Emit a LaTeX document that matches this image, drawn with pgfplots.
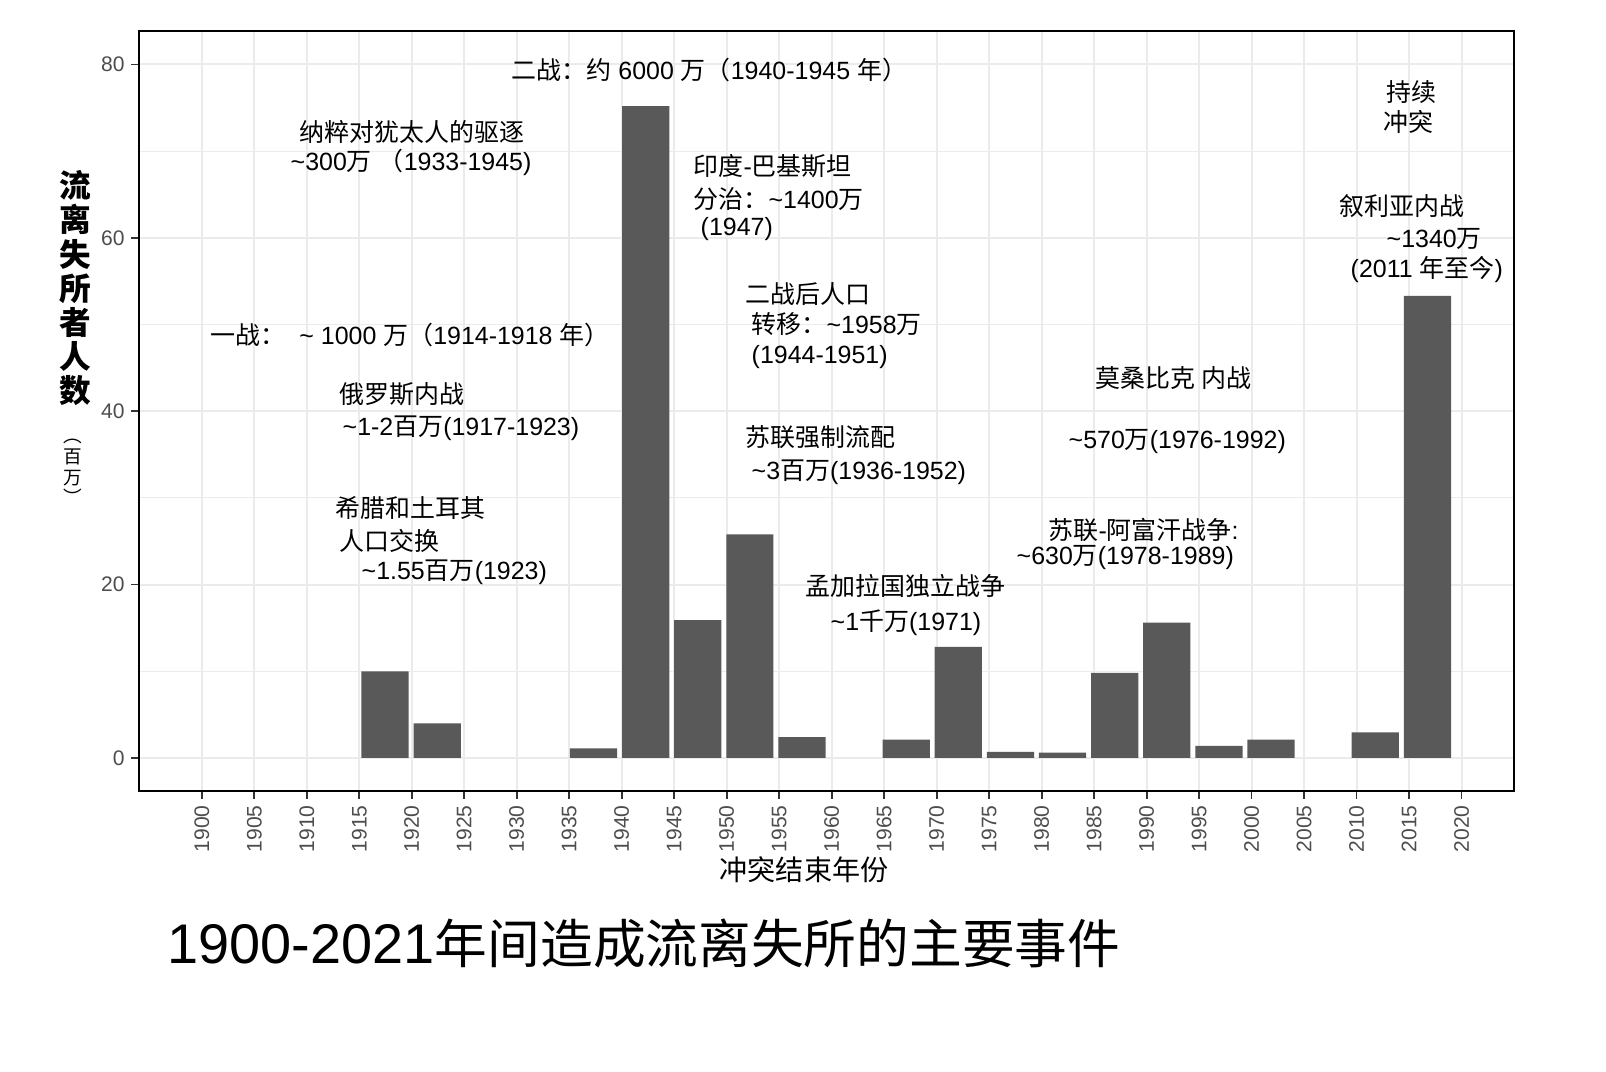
\documentclass[border=0pt]{standalone}
\usepackage{fontspec}
\setmainfont{Liberation Sans}
\newfontfamily\cjkf{Noto Sans CJK SC}
\newfontfamily\tickfont{Liberation Sans}
\usepackage{pgfplots}
\pgfplotsset{compat=1.18}
\definecolor{barc}{HTML}{595959}
\definecolor{gridc}{HTML}{EBEBEB}
\definecolor{tickc}{HTML}{4D4D4D}
\newcommand{\tl}{\textasciitilde}
\newcommand{\C}[1]{{\cjkf #1}}
\begin{document}
\begin{tikzpicture}
\path[use as bounding box] (0,0) rectangle (160.6mm,-107.2mm);
\begin{axis}[
  at={(13.93mm,-79.07mm)}, anchor=south west,
  scale only axis, width=137.45mm, height=76.0mm,
  xmin=1894.05, xmax=2024.98, ymin=-3.78, ymax=83.9,
  xtick={1900,1905,...,2020}, ytick={0,20,...,80},
  minor ytick={10,30,50,70},
  ymajorgrids, xmajorgrids, yminorgrids,
  major grid style={gridc, line width=0.2mm},
  minor grid style={gridc, line width=0.1mm},
  axis line style={black, line width=0.18mm},
  tick pos=left, tick align=outside,
  major tick length=0.8mm,
  minor tick style={draw=none},
  major tick style={color=black!80, line width=0.18mm},
  x tick label style={rotate=90, anchor=east, font=\tickfont\fontsize{6}{6}\selectfont, color=tickc, inner sep=0.6mm},
  y tick label style={font=\tickfont\fontsize{6}{6}\selectfont, color=tickc, inner sep=0.6mm},
  /pgf/number format/assume math mode=true,
  /pgf/number format/1000 sep={},
]
\addplot[ybar, bar width=4.5, fill=barc, draw=none] coordinates {
(1917.45,10.0) (1922.42,4.0) (1937.31,1.1) (1942.28,75.2) (1947.24,15.9)
(1952.21,25.8) (1957.17,2.4) (1967.10,2.1) (1972.07,12.8) (1977.03,0.7)
(1982.00,0.6) (1986.96,9.8) (1991.93,15.6) (1996.89,1.4) (2001.86,2.1)
(2011.79,2.95) (2016.75,53.3)
};
\end{axis}
\begin{scope}[x=0.1mm,y=-0.1mm, every node/.style={inner sep=0pt, anchor=west, font=\fontsize{7.1}{8}\selectfont}]
\node at (511,70) {\C{二战：约} 6000 \C{万（}1940-1945 \C{年）}};
\node at (299,132) {\C{纳粹对犹太人的驱逐}};
\node at (290,162) {\tl300\C{万} \C{（}1933-1945)};
\node at (210,335) {\C{一战：}\ \ \tl\ 1000 \C{万（}1914-1918 \C{年）}};
\node at (339,394) {\C{俄罗斯内战}};
\node at (342,428) {\tl1-2\C{百万}(1917-1923)};
\node at (335,508) {\C{希腊和土耳其}};
\node at (339,541) {\C{人口交换}};
\node at (361,572) {\tl1.55\C{百万}(1923)};
\node at (693,166) {\C{印度}-\C{巴基斯坦}};
\node at (693,199) {\C{分治：}\tl1400\C{万}};
\node at (700,229) {(1947)};
\node at (745,294) {\C{二战后人口}};
\node at (751,324) {\C{转移：}\tl1958\C{万}};
\node at (751,357) {(1944-1951)};
\node at (745,437) {\C{苏联强制流配}};
\node at (751,472) {\tl3\C{百万}(1936-1952)};
\node at (805,586) {\C{孟加拉国独立战争}};
\node at (830,623) {\tl1\C{千万}(1971)};
\node at (1095,378) {\C{莫桑比克 内战}};
\node at (1068,442) {\tl570\C{万}(1976-1992)};
\node at (1048,530) {\C{苏联}-\C{阿富汗战争}:};
\node at (1016,558) {\tl630\C{万}(1978-1989)};
\node at (1386,92) {\C{持续}};
\node at (1383,122) {\C{冲突}};
\node at (1339,206) {\C{叙利亚内战}};
\node at (1386,239) {\tl1340\C{万}};
\node at (1350,270) {(2011 \C{年至今})};
% axis titles
\node[anchor=north, align=center, font=\cjkf\bfseries\fontsize{9}{9.7}\selectfont] at (75,170) {流\\离\\失\\所\\者\\人\\数};
\node[anchor=center, align=center, font=\cjkf\fontsize{5.3}{5.9}\selectfont] at (73,472) {︵\\百\\万\\︶};
\node[anchor=center, font=\cjkf\fontsize{8}{9}\selectfont] at (804,870) {冲突结束年份};
\node[anchor=west, font=\fontsize{15.9}{17}\selectfont] at (167,943) {1900-2021\C{\fontsize{15}{17}\selectfont 年间造成流离失所的主要事件}};
\end{scope}
\end{tikzpicture}
\end{document}
